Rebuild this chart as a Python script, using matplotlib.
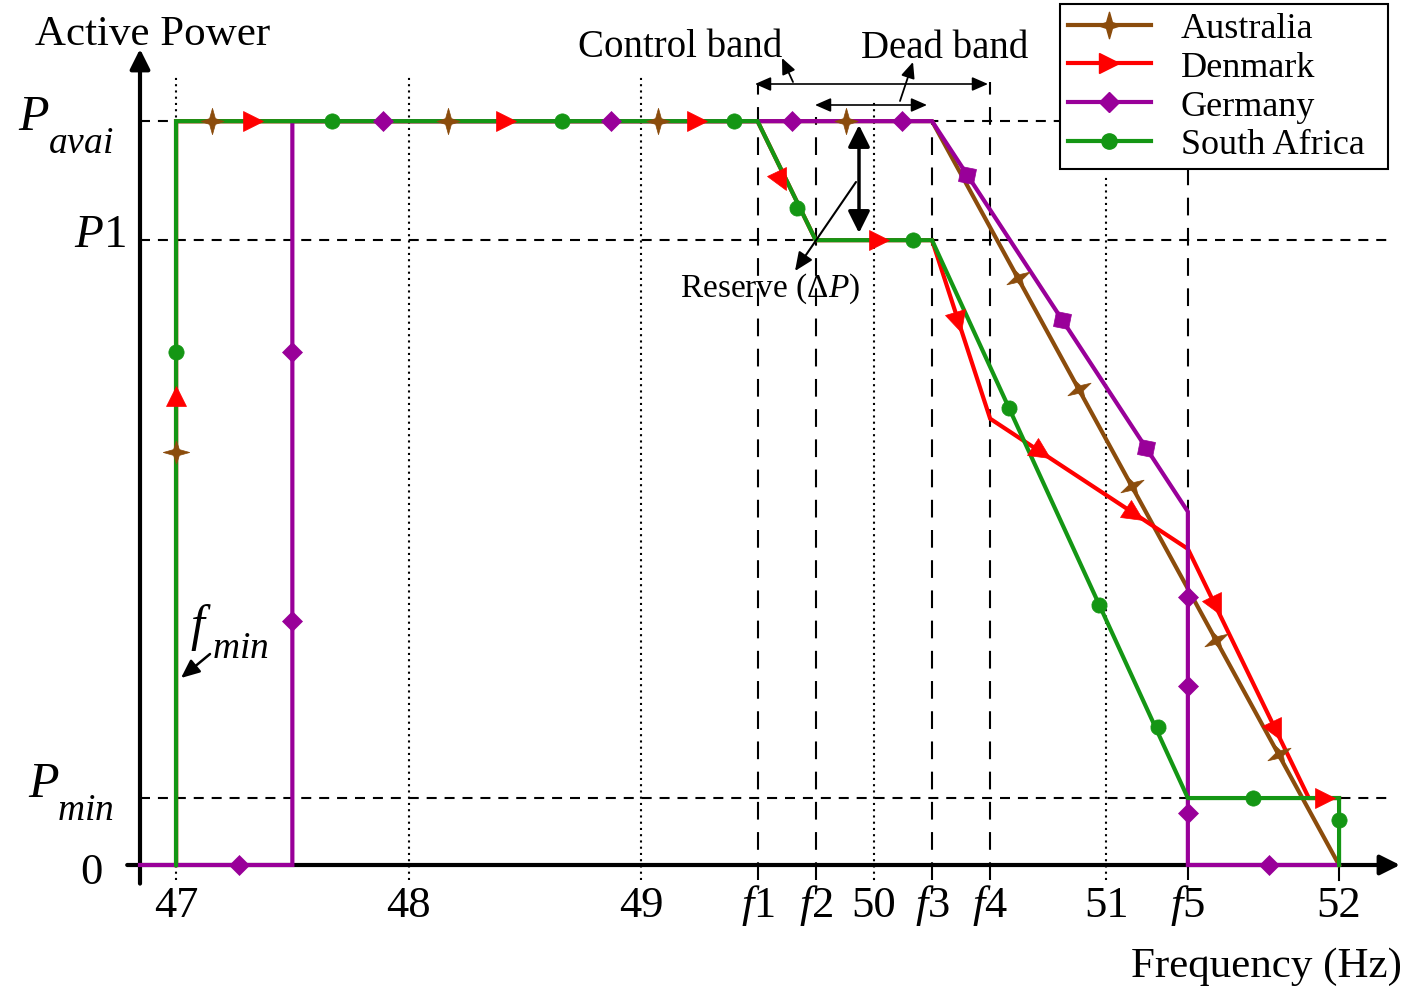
import numpy as np
import matplotlib
matplotlib.use("Agg")
import matplotlib.pyplot as plt
from matplotlib.lines import Line2D
from matplotlib.markers import MarkerStyle
from matplotlib.path import Path
from matplotlib.transforms import Affine2D

plt.rcParams['font.family'] = ['Liberation Serif', 'DejaVu Serif']
plt.rcParams['mathtext.fontset'] = 'custom'
plt.rcParams['mathtext.rm'] = 'Liberation Serif'
plt.rcParams['mathtext.it'] = 'Liberation Serif:italic'

# characteristic frequencies (Hz) and power levels (p.u. of available power)
F1, F2, F3, F4, F5 = 49.5, 49.75, 50.25, 50.5, 51.35
P_AVAI, P1, P_MIN = 1.0, 0.84, 0.09
X_AXIS = 46.845

countries = ['Australia', 'Denmark', 'Germany', 'South Africa']
colors = ['#8B4C0C', '#FF0000', '#990099', '#149614']

aus_x = [47, 47, F3, 52]
aus_y = [0, P_AVAI, P_AVAI, 0]
den_x = [47, 47, F1, F2, F3, F4, F5, 51.87, 52]
den_y = [0, P_AVAI, P_AVAI, P1, P1, 0.60, 0.425, P_MIN, P_MIN]
ger_x = [X_AXIS, 47.5, 47.5, F3, F5, F5, 52]
ger_y = [0, 0, P_AVAI, P_AVAI, 0.475, 0, 0]
sa_x = [47, 47, F1, F2, F3, F5, 52, 52]
sa_y = [0, P_AVAI, P_AVAI, P1, P1, P_MIN, P_MIN, 0]

# marker positions along each curve
aus_mx = [47, 47.155, 48.17, 49.07, 49.88, 50.62, 50.88, 51.11, 51.47, 51.74]
aus_my = [0.555, 1, 1, 1, 1, 0.789, 0.64, 0.509, 0.303, 0.149]
den_mx = [47, 47.33, 48.42, 49.24, 49.60, 50.02, 50.36, 50.72, 51.12, 51.47, 51.73, 51.94]
den_my = [0.63, 1, 1, 1, 0.92, 0.84, 0.73, 0.555, 0.472, 0.348, 0.18, 0.09]
ger_mx = [47.27, 47.5, 47.5, 47.89, 48.87, 49.65, 50.12, 50.40, 50.81, 51.17, 51.35, 51.35, 51.35, 51.7]
ger_my = [0, 0.69, 0.328, 1, 1, 1, 1, 0.928, 0.733, 0.561, 0.36, 0.24, 0.07, 0]
sa_mx = [47, 47.67, 48.66, 49.40, 49.67, 50.17, 50.58, 50.97, 51.22, 51.63, 52]
sa_my = [0.69, 1, 1, 1, 0.883, 0.84, 0.615, 0.349, 0.185, 0.09, 0.06]

grid_dotted = [47, 48, 49, 50, 51]
grid_dotted_top = [1.059, 1.059, 1.059, 1.03, 0.926]
grid_dashed = [F1, F2, F3, F4, F5]
grid_dashed_top = [1.05, 1.005, 1.0, 1.052, 0.935]
xtick_pos = [47, 48, 49, F1, F2, 50, F3, F4, 51, F5, 52]
xtick_lab = ['47', '48', '49', '$f$1', '$f$2', '50', '$f$3', '$f$4', '51', '$f$5', '52']

s = 0.22
star = Path([(0, 1), (s, s), (0.88, 0), (s, -s), (0, -1), (-s, -s), (-0.88, 0), (-s, s), (0, 1)],
            [Path.MOVETO] + [Path.LINETO] * 7 + [Path.CLOSEPOLY])
markers = [star, '>', 'D', 'o']
msizes = [19, 15, 10.5, 11]

W, H = 1406, 987
fig = plt.figure(figsize=(W / 100, H / 100), dpi=100)
ax = fig.add_axes([140 / W, (H - 866) / H, 1260 / W, 816 / H])
ax.set_xlim(X_AXIS, 52.262)
ax.set_ylim(0, 1.097)
for sp in ax.spines.values():
    sp.set_visible(False)
ax.set_xticks([])
ax.set_yticks([])


def fxy(px, py):
    return px / W, 1 - py / H


# guide lines
for x, top in zip(grid_dotted, grid_dotted_top):
    ax.plot([x, x], [-0.02, top], color='k', lw=1.5, ls=(0, (1, 2)), clip_on=False, zorder=1)
for x, top in zip(grid_dashed, grid_dashed_top):
    ax.plot([x, x], [-0.02, top], color='k', lw=1.5, ls=(0, (8.5, 6)), clip_on=False, zorder=1)
ax.plot([52, 52], [-0.02, 0], color='k', lw=1.5, clip_on=False, zorder=1)
for yv in [P_AVAI, P1, P_MIN]:
    ax.plot([X_AXIS, 52.22], [yv, yv], color='k', lw=1.5, ls=(0, (4.8, 3.8)), clip_on=False, zorder=1)

# axes with arrows
ax.annotate('', xy=(X_AXIS, 1.097), xytext=(X_AXIS, -0.025), annotation_clip=False,
            arrowprops=dict(arrowstyle='-|>,head_length=0.6,head_width=0.3', lw=3, color='k',
                            mutation_scale=20, shrinkA=0, shrinkB=0), zorder=2)
ax.annotate('', xy=(52.262, 0), xytext=(46.79, 0), annotation_clip=False,
            arrowprops=dict(arrowstyle='-|>,head_length=0.6,head_width=0.3', lw=3, color='k',
                            mutation_scale=20, shrinkA=0, shrinkB=0), zorder=2)

# curves
curves = [(aus_x, aus_y), (den_x, den_y), (ger_x, ger_y), (sa_x, sa_y)]
mpos = [(aus_mx, aus_my), (den_mx, den_my), (ger_mx, ger_my), (sa_mx, sa_my)]
for i, (xs, ys) in enumerate(curves):
    ax.plot(xs, ys, color=colors[i], lw=3, zorder=3 + i, clip_on=False, solid_joinstyle='miter')


def seg_angle(xs, ys, mx, my):
    pts = ax.transData.transform(np.column_stack([xs, ys]))
    p = ax.transData.transform((mx, my))
    best, ang = None, 0.0
    for a, b in zip(pts[:-1], pts[1:]):
        d = b - a
        L2 = d @ d
        if L2 == 0:
            continue
        t = np.clip((p - a) @ d / L2, 0, 1)
        dist = np.linalg.norm(a + t * d - p)
        if best is None or dist < best:
            best, ang = dist, np.degrees(np.arctan2(d[1], d[0]))
    return ang


for i, ((xs, ys), (mxs, mys)) in enumerate(zip(curves, mpos)):
    for mx, my in zip(mxs, mys):
        ang = seg_angle(xs, ys, mx, my)
        m = MarkerStyle(markers[i], transform=Affine2D().rotate_deg(ang))
        ax.plot(mx, my, marker=m, ms=msizes[i], color=colors[i], mec=colors[i], mew=0.5,
                ls='none', zorder=10, clip_on=False)

# legend
handles = [Line2D([], [], color=c, lw=3, marker=m, ms=ms, mec=c)
           for c, m, ms in zip(colors, markers, msizes)]
x0, y0 = fxy(1060, 168)
x1, y1 = fxy(1388, 5)
leg = fig.legend(handles, countries, loc='upper left', bbox_to_anchor=(x0, y0, x1 - x0, y1 - y0),
                 mode='expand', bbox_transform=fig.transFigure, fontsize=26, frameon=True,
                 fancybox=False, edgecolor='k', framealpha=1, handlelength=2.3,
                 labelspacing=0.15, borderpad=0.22, handletextpad=0.83, borderaxespad=0)
leg.get_frame().set_linewidth(1.5)
leg.set_zorder(20)

# tick labels
for x, lab in zip(xtick_pos, xtick_lab):
    fig.text(ax.transData.transform((x, 0))[0] / W, fxy(0, 917)[1], lab, fontsize=32,
             ha='center', va='baseline')
fig.text(*fxy(18, 130), '$P$', fontsize=36, va='baseline')
fig.text(*fxy(48, 153), '$avai$', fontsize=27, va='baseline')
fig.text(*fxy(74, 247), '$P$1', fontsize=34, va='baseline')
fig.text(*fxy(28, 797), '$P$', fontsize=36, va='baseline')
fig.text(*fxy(57, 820), '$min$', fontsize=27, va='baseline')
fig.text(*fxy(80, 884), '0', fontsize=32, va='baseline')

fig.text(*fxy(35, 45), 'Active Power', fontsize=31, va='baseline')
fig.text(*fxy(1402, 977), 'Frequency (Hz)', fontsize=31, va='baseline', ha='right')

# annotations
fig.text(*fxy(680, 57), 'Control band', fontsize=28, va='baseline', ha='center')
fig.text(*fxy(945, 58), 'Dead band', fontsize=28, va='baseline', ha='center')
fig.text(*fxy(770, 297), 'Reserve (Δ$P$)', fontsize=24, va='baseline', ha='center')
fig.text(*fxy(190, 640), '$f$', fontsize=36, va='baseline')
fig.text(*fxy(212, 658), '$min$', fontsize=27, va='baseline')


def arrow(p0, p1, style, lw, ms):
    fig.add_artist(matplotlib.patches.FancyArrowPatch(
        fxy(*p0), fxy(*p1), transform=fig.transFigure, arrowstyle=style, lw=lw,
        color='k', mutation_scale=ms, shrinkA=0, shrinkB=0, zorder=15))


arrow((755, 85), (988, 85), '<|-|>,head_length=0.8,head_width=0.35', 1.2, 12)
arrow((815, 106), (927, 106), '<|-|>,head_length=0.8,head_width=0.35', 1.2, 12)
arrow((793, 83), (782, 59), '-|>,head_length=0.8,head_width=0.35', 1.3, 12)
arrow((900, 102), (913, 63), '-|>,head_length=0.8,head_width=0.35', 1.3, 12)
arrow((859, 126), (859, 234), '<|-|>,head_length=0.6,head_width=0.3', 2.5, 22)
arrow((856, 183), (795, 272), '-|>,head_length=0.8,head_width=0.35', 1.5, 14)
arrow((210, 655), (181, 679), '-|>,head_length=0.8,head_width=0.35', 1.8, 14)

fig.savefig('out.png', dpi=100)
